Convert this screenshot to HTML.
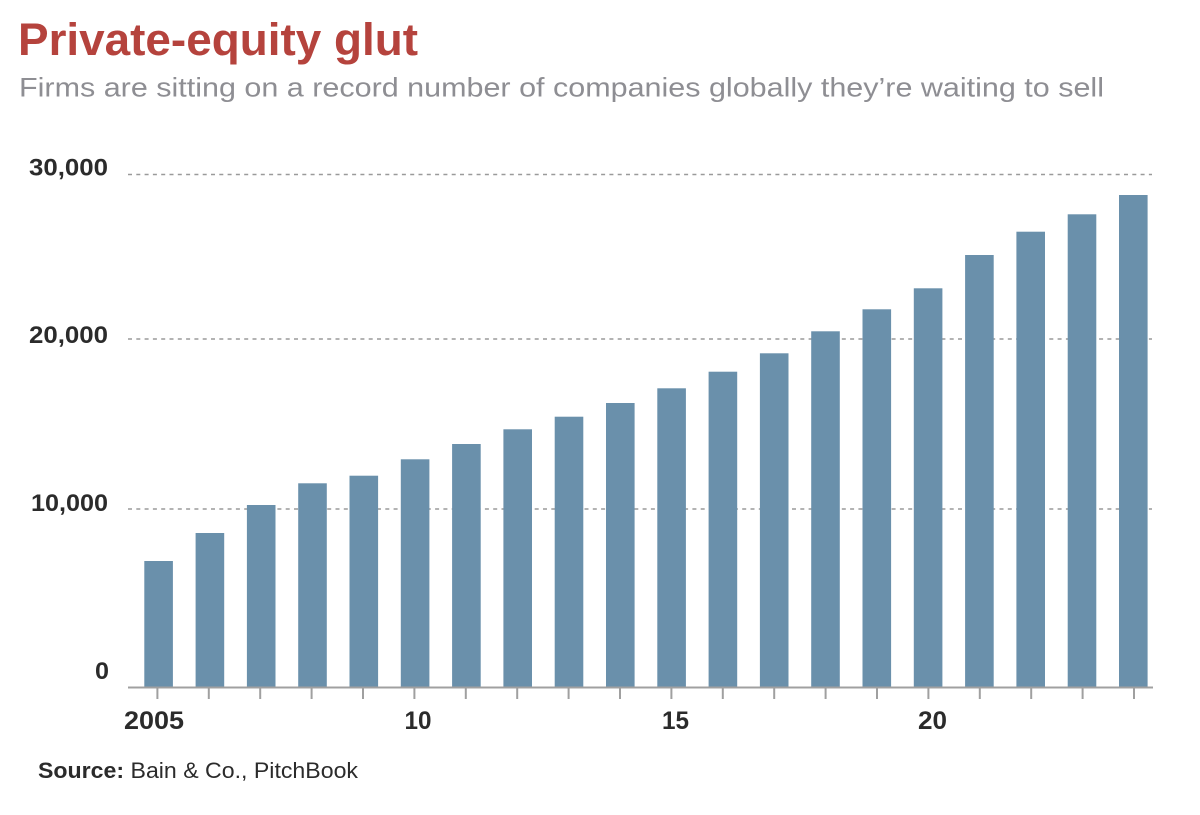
<!DOCTYPE html>
<html>
<head>
<meta charset="utf-8">
<style>
  html, body { margin: 0; padding: 0; background: #ffffff; }
  body { width: 1200px; height: 815px; overflow: hidden; }
  svg { display: block; }
  text { font-family: "Liberation Sans", Arial, sans-serif; }
</style>
</head>
<body>
<svg width="1200" height="815" viewBox="0 0 1200 815" xmlns="http://www.w3.org/2000/svg">
  <rect x="0" y="0" width="1200" height="815" fill="#ffffff"/>

  <!-- Title -->
  <text x="18" y="55" font-size="45" font-weight="bold" fill="#b5433d" textLength="400" lengthAdjust="spacingAndGlyphs">Private-equity glut</text>
  <!-- Subtitle -->
  <text x="19" y="96.5" font-size="27" fill="#8e8e93" textLength="1085" lengthAdjust="spacingAndGlyphs">Firms are sitting on a record number of companies globally they’re waiting to sell</text>

  <!-- Gridlines -->
  <g stroke="#9a9a9a" stroke-width="1.5" stroke-dasharray="4,4.3">
    <line x1="128" y1="174.5" x2="1152" y2="174.5"/>
    <line x1="128" y1="339" x2="1152" y2="339"/>
    <line x1="128" y1="509" x2="1152" y2="509"/>
  </g>

  <!-- Y labels -->
  <g font-size="24" font-weight="bold" fill="#2b2b2b">
    <text x="29" y="175.5" textLength="79" lengthAdjust="spacingAndGlyphs">30,000</text>
    <text x="29" y="343" textLength="79" lengthAdjust="spacingAndGlyphs">20,000</text>
    <text x="31" y="511" textLength="77" lengthAdjust="spacingAndGlyphs">10,000</text>
    <text x="95" y="679" textLength="14" lengthAdjust="spacingAndGlyphs">0</text>
  </g>

  <!-- Bars -->
  <g fill="#6a90ab">
    <rect x="144.3" y="561" width="28.6" height="126.5"/>
    <rect x="195.6" y="533" width="28.6" height="154.5"/>
    <rect x="246.9" y="505" width="28.6" height="182.5"/>
    <rect x="298.2" y="483.3" width="28.6" height="204.2"/>
    <rect x="349.5" y="475.7" width="28.6" height="211.8"/>
    <rect x="400.8" y="459.3" width="28.6" height="228.2"/>
    <rect x="452.1" y="444" width="28.6" height="243.5"/>
    <rect x="503.4" y="429.3" width="28.6" height="258.2"/>
    <rect x="554.7" y="416.7" width="28.6" height="270.8"/>
    <rect x="606.0" y="403" width="28.6" height="284.5"/>
    <rect x="657.3" y="388.3" width="28.6" height="299.2"/>
    <rect x="708.6" y="371.7" width="28.6" height="315.8"/>
    <rect x="759.9" y="353.3" width="28.6" height="334.2"/>
    <rect x="811.2" y="331.3" width="28.6" height="356.2"/>
    <rect x="862.5" y="309.3" width="28.6" height="378.2"/>
    <rect x="913.8" y="288.3" width="28.6" height="399.2"/>
    <rect x="965.1" y="255" width="28.6" height="432.5"/>
    <rect x="1016.4" y="231.7" width="28.6" height="455.8"/>
    <rect x="1067.7" y="214.3" width="28.6" height="473.2"/>
    <rect x="1119.0" y="195" width="28.6" height="492.5"/>
  </g>

  <!-- Axis line -->
  <line x1="128" y1="687.5" x2="1153" y2="687.5" stroke="#a0a0a0" stroke-width="2"/>

  <!-- Ticks -->
  <g stroke="#a0a0a0" stroke-width="2">
    <line x1="157.4" y1="688" x2="157.4" y2="699"/>
    <line x1="208.8" y1="688" x2="208.8" y2="699"/>
    <line x1="260.2" y1="688" x2="260.2" y2="699"/>
    <line x1="311.6" y1="688" x2="311.6" y2="699"/>
    <line x1="363.0" y1="688" x2="363.0" y2="699"/>
    <line x1="414.4" y1="688" x2="414.4" y2="699"/>
    <line x1="465.8" y1="688" x2="465.8" y2="699"/>
    <line x1="517.2" y1="688" x2="517.2" y2="699"/>
    <line x1="568.6" y1="688" x2="568.6" y2="699"/>
    <line x1="620.0" y1="688" x2="620.0" y2="699"/>
    <line x1="671.4" y1="688" x2="671.4" y2="699"/>
    <line x1="722.8" y1="688" x2="722.8" y2="699"/>
    <line x1="774.2" y1="688" x2="774.2" y2="699"/>
    <line x1="825.6" y1="688" x2="825.6" y2="699"/>
    <line x1="877.0" y1="688" x2="877.0" y2="699"/>
    <line x1="928.4" y1="688" x2="928.4" y2="699"/>
    <line x1="979.8" y1="688" x2="979.8" y2="699"/>
    <line x1="1031.2" y1="688" x2="1031.2" y2="699"/>
    <line x1="1082.6" y1="688" x2="1082.6" y2="699"/>
    <line x1="1134.0" y1="688" x2="1134.0" y2="699"/>
  </g>

  <!-- X labels -->
  <g font-size="25" font-weight="bold" fill="#2b2b2b">
    <text x="124" y="729" textLength="60" lengthAdjust="spacingAndGlyphs">2005</text>
    <text x="404.5" y="729" textLength="27" lengthAdjust="spacingAndGlyphs">10</text>
    <text x="662" y="729" textLength="27" lengthAdjust="spacingAndGlyphs">15</text>
    <text x="918" y="729" textLength="29" lengthAdjust="spacingAndGlyphs">20</text>
  </g>

  <!-- Source -->
  <text x="38" y="778" font-size="22" fill="#2b2b2b" textLength="320" lengthAdjust="spacingAndGlyphs"><tspan font-weight="bold">Source:</tspan> Bain &amp; Co., PitchBook</text>
</svg>
</body>
</html>
